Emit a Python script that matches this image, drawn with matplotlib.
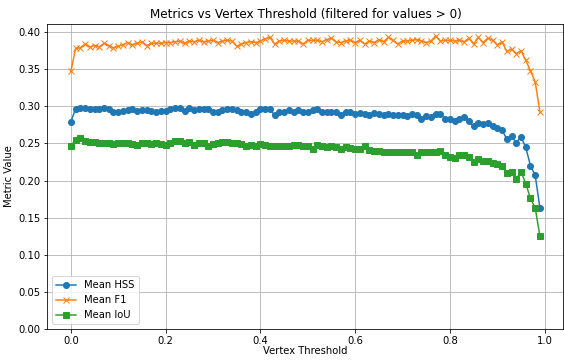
import matplotlib
matplotlib.use('Agg')
import matplotlib.pyplot as plt
import numpy as np

thresholds = np.round(np.arange(0, 1.0, 0.01), 2)

mean_hss = [
    0.279, 0.297, 0.298, 0.298, 0.296, 0.296, 0.297, 0.298, 0.296, 0.293,
    0.292, 0.294, 0.295, 0.296, 0.294, 0.295, 0.295, 0.294, 0.293, 0.294,
    0.294, 0.296, 0.298, 0.298, 0.294, 0.298, 0.295, 0.297, 0.297, 0.296,
    0.292, 0.293, 0.295, 0.296, 0.296, 0.295, 0.293, 0.292, 0.290, 0.293,
    0.296, 0.296, 0.296, 0.288, 0.292, 0.293, 0.295, 0.292, 0.295, 0.293,
    0.292, 0.295, 0.296, 0.293, 0.293, 0.293, 0.292, 0.289, 0.292, 0.292,
    0.290, 0.291, 0.290, 0.288, 0.291, 0.290, 0.289, 0.290, 0.288, 0.289,
    0.289, 0.287, 0.290, 0.289, 0.283, 0.287, 0.286, 0.290, 0.290, 0.283,
    0.283, 0.280, 0.283, 0.286, 0.280, 0.273, 0.278, 0.276, 0.278, 0.274,
    0.271, 0.268, 0.256, 0.260, 0.251, 0.259, 0.245, 0.220, 0.207, 0.163,
]

mean_f1 = [
    0.347, 0.378, 0.379, 0.384, 0.380, 0.382, 0.380, 0.385, 0.382, 0.379,
    0.381, 0.383, 0.386, 0.383, 0.385, 0.387, 0.382, 0.385, 0.385, 0.385,
    0.386, 0.386, 0.387, 0.388, 0.385, 0.388, 0.387, 0.389, 0.387, 0.388,
    0.389, 0.386, 0.388, 0.389, 0.388, 0.381, 0.384, 0.386, 0.387, 0.386,
    0.388, 0.391, 0.393, 0.384, 0.388, 0.389, 0.388, 0.388, 0.388, 0.384,
    0.389, 0.389, 0.389, 0.387, 0.390, 0.392, 0.387, 0.386, 0.388, 0.389,
    0.386, 0.389, 0.384, 0.388, 0.386, 0.390, 0.387, 0.393, 0.389, 0.384,
    0.388, 0.388, 0.389, 0.390, 0.388, 0.386, 0.388, 0.395, 0.388, 0.389,
    0.389, 0.388, 0.389, 0.387, 0.392, 0.384, 0.393, 0.386, 0.392, 0.389,
    0.383, 0.387, 0.374, 0.377, 0.371, 0.375, 0.362, 0.348, 0.333, 0.292,
]

mean_iou = [
    0.247, 0.255, 0.257, 0.254, 0.252, 0.252, 0.251, 0.251, 0.250, 0.249,
    0.250, 0.251, 0.250, 0.249, 0.248, 0.250, 0.250, 0.249, 0.250, 0.249,
    0.248, 0.251, 0.253, 0.253, 0.250, 0.252, 0.248, 0.251, 0.250, 0.247,
    0.249, 0.251, 0.252, 0.252, 0.251, 0.250, 0.249, 0.247, 0.248, 0.246,
    0.249, 0.248, 0.247, 0.246, 0.246, 0.246, 0.247, 0.248, 0.248, 0.247,
    0.247, 0.243, 0.248, 0.246, 0.245, 0.246, 0.245, 0.242, 0.245, 0.244,
    0.243, 0.242, 0.246, 0.241, 0.240, 0.240, 0.238, 0.239, 0.238, 0.238,
    0.238, 0.239, 0.239, 0.235, 0.239, 0.238, 0.238, 0.239, 0.240, 0.235,
    0.232, 0.230, 0.234, 0.235, 0.232, 0.225, 0.229, 0.227, 0.226, 0.224,
    0.222, 0.220, 0.210, 0.212, 0.202, 0.212, 0.196, 0.176, 0.163, 0.125,
]

DPI = 72
fig = plt.figure(figsize=(564 / DPI, 360 / DPI), dpi=DPI)
ax = fig.add_axes([47.4 / 564, 31 / 360, 516 / 564, 305 / 360])

ax.plot(thresholds, mean_hss, marker='o', label='Mean HSS')
ax.plot(thresholds, mean_f1, marker='x', label='Mean F1')
ax.plot(thresholds, mean_iou, marker='s', label='Mean IoU')

ax.set_ylim(0, 0.411)
ax.set_xlabel('Vertex Threshold', labelpad=0)
ax.set_ylabel('Metric Value')
ax.set_title('Metrics vs Vertex Threshold (filtered for values > 0)')
ax.grid(True)
ax.legend(loc='lower left')

fig.savefig('out.png', dpi=DPI)
